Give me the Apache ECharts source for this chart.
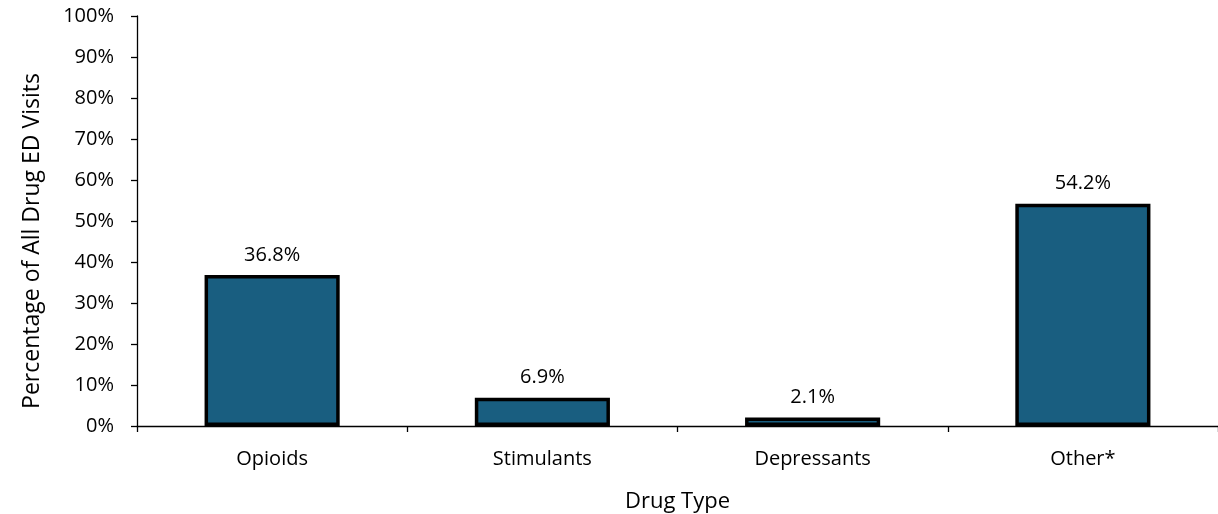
<!DOCTYPE html>
<html><head><meta charset="utf-8">
<script src="https://cdn.jsdelivr.net/npm/echarts@6/dist/echarts.min.js"></script>
<style>html,body{margin:0;padding:0;background:#fff}#c{width:1218px;height:514px}</style>
</head><body><div id="c"></div>
<script>
const categories = ['Opioids', 'Stimulants', 'Depressants', 'Other*'];
const values = [36.8, 6.9, 2.1, 54.2];
const yTicks = { min: 0, max: 100, interval: 10 };
const FONT = '"Open Sans", "Liberation Sans", sans-serif';
const chart = echarts.init(document.getElementById('c'));
chart.setOption({
  animation: false,
  grid: { left: 137, right: 0, top: 16, bottom: 88, containLabel: false, outerBoundsMode: 'none' },
  xAxis: {
    type: 'category', data: categories,
    name: 'Drug Type', nameLocation: 'middle', nameGap: 65,
    nameTextStyle: { fontFamily: FONT, fontSize: 22, color: '#000' },
    axisLine: { lineStyle: { color: '#000', width: 1.3 } },
    axisTick: { show: true, length: 6, lineStyle: { color: '#000', width: 1.3 } },
    axisLabel: { fontFamily: FONT, fontSize: 20, color: '#000', margin: 23 }
  },
  yAxis: {
    type: 'value', min: yTicks.min, max: yTicks.max, interval: yTicks.interval,
    name: 'Percentage of All Drug ED Visits', nameLocation: 'middle', nameGap: 93,
    nameTextStyle: { fontFamily: FONT, fontSize: 23, color: '#000', padding: [0, 40, 0, 0] },
    splitLine: { show: false },
    axisLine: { show: true, lineStyle: { color: '#000', width: 1.3 } },
    axisTick: { show: true, length: 6, lineStyle: { color: '#000', width: 1.3 } },
    axisLabel: { fontFamily: FONT, fontSize: 20, color: '#000', margin: 23, formatter: v => v + '%' }
  },
  series: [{
    type: 'bar', data: values, barWidth: '50%',
    itemStyle: { color: '#195e80', borderColor: '#000', borderWidth: 3.5 },
    label: { show: true, position: 'top', distance: 10, fontFamily: FONT, fontSize: 20, color: '#000', formatter: p => p.value.toFixed(1) + '%' }
  }]
});
</script></body></html>
